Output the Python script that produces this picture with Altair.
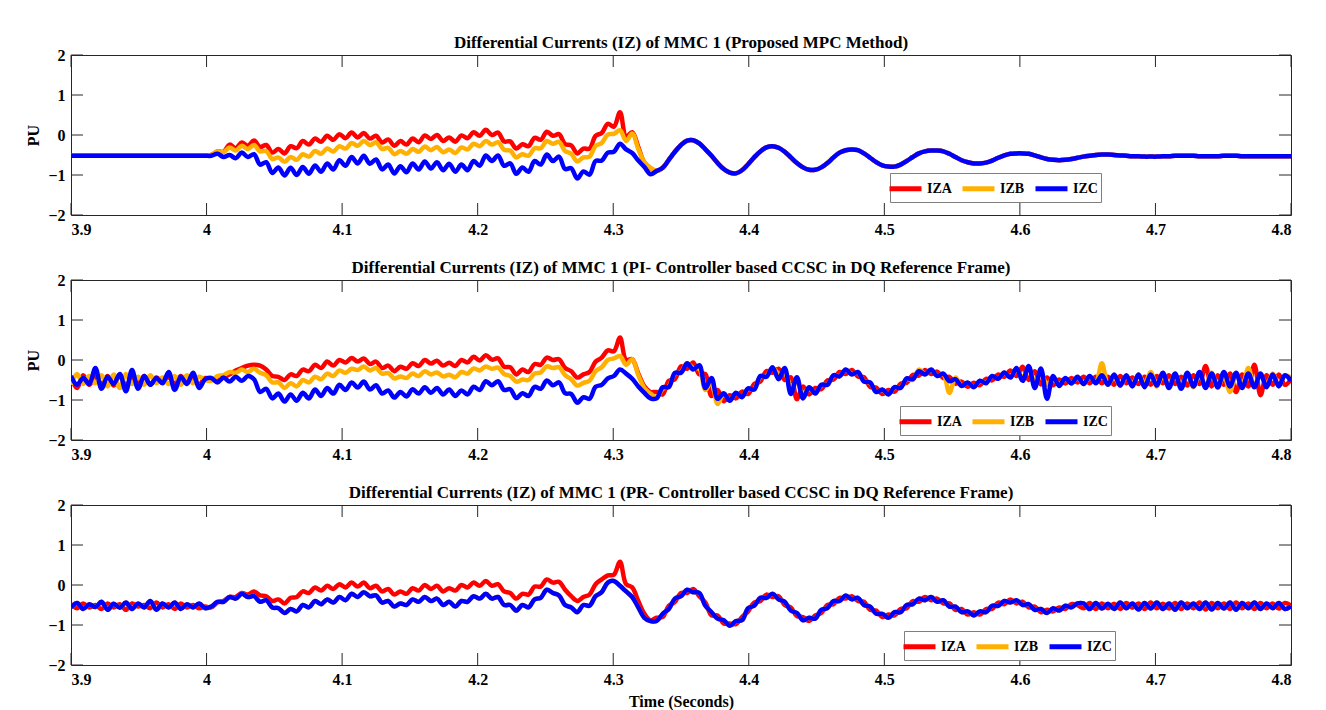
import altair as alt
import pandas as pd

# ---------------- time grid (seconds) ----------------
T = [round(3.9 + 0.0045 * i, 4) for i in range(201)]
XTICKS = [3.9, 4.0, 4.1, 4.2, 4.3, 4.4, 4.5, 4.6, 4.7, 4.8]
YTICKS = [-2, -1, 0, 1, 2]
SERIES = ["IZA", "IZB", "IZC"]
COLORS = ["#FF0000", "#FFB000", "#0000FF"]

# ---------------- Panel 1 : Proposed MPC ----------------
P1_PRE = [-0.52, -0.52, -0.52, -0.52, -0.52, -0.52, -0.52, -0.52, -0.52, -0.52,
          -0.52, -0.52, -0.52, -0.52, -0.52, -0.52, -0.52, -0.52, -0.52, -0.52,
          -0.52, -0.52, -0.52]
P1_A_MID = [-0.50, -0.41, -0.42, -0.24, -0.33, -0.19, -0.27, -0.14, -0.30, -0.25,
            -0.44, -0.35, -0.46, -0.28, -0.33, -0.15, -0.24, -0.09, -0.17, -0.02,
            -0.12, 0.02, -0.08, 0.06, -0.06, 0.05, -0.09, -0.02, -0.19, -0.11,
            -0.27, -0.15, -0.24, -0.09, -0.18, -0.01, -0.10, 0.00, -0.15, -0.06,
            -0.17, -0.01, -0.08, 0.07, -0.02, 0.13, 0.00, 0.06, -0.16, -0.16,
            -0.34, -0.23, -0.28, -0.07, -0.12, 0.08, -0.02, 0.02, -0.23, -0.26,
            -0.46, -0.34, -0.34, -0.02, 0.05, 0.28, 0.21, 0.57, -0.04, 0.07,
            -0.30, -0.70, -0.83]
P1_B_MID = [-0.50, -0.41, -0.43, -0.31, -0.39, -0.27, -0.35, -0.25, -0.41, -0.40,
            -0.60, -0.56, -0.67, -0.55, -0.62, -0.48, -0.54, -0.40, -0.47, -0.34,
            -0.41, -0.28, -0.34, -0.20, -0.27, -0.15, -0.25, -0.18, -0.35, -0.32,
            -0.48, -0.40, -0.47, -0.35, -0.42, -0.29, -0.38, -0.30, -0.43, -0.36,
            -0.45, -0.31, -0.36, -0.22, -0.28, -0.15, -0.24, -0.18, -0.37, -0.39,
            -0.56, -0.48, -0.52, -0.33, -0.33, -0.15, -0.22, -0.17, -0.40, -0.47,
            -0.66, -0.56, -0.54, -0.27, -0.20, 0.01, 0.03, 0.12, -0.15, 0.04,
            -0.35, -0.68, -0.82]
P1_C_MID = [-0.52, -0.47, -0.55, -0.50, -0.58, -0.44, -0.55, -0.48, -0.74, -0.68,
            -0.95, -0.81, -1.01, -0.82, -1.00, -0.80, -0.97, -0.76, -0.92, -0.71,
            -0.86, -0.63, -0.77, -0.55, -0.71, -0.52, -0.72, -0.61, -0.86, -0.74,
            -0.96, -0.78, -0.93, -0.71, -0.86, -0.66, -0.84, -0.68, -0.88, -0.72,
            -0.92, -0.74, -0.88, -0.65, -0.77, -0.51, -0.65, -0.51, -0.77, -0.71,
            -0.97, -0.81, -0.92, -0.65, -0.74, -0.49, -0.65, -0.54, -0.85, -0.83,
            -1.09, -0.91, -0.99, -0.65, -0.64, -0.44, -0.42, -0.22, -0.36, -0.45,
            -0.64, -0.80, -0.98]
P1_POST = [-0.90, -0.82, -0.62, -0.42, -0.25, -0.14, -0.13, -0.21, -0.36, -0.52,
           -0.70, -0.85, -0.94, -0.96, -0.88, -0.73, -0.56, -0.41, -0.31, -0.28,
           -0.32, -0.42, -0.56, -0.70, -0.81, -0.87, -0.87, -0.81, -0.70, -0.56,
           -0.44, -0.38, -0.36, -0.38, -0.46, -0.57, -0.68, -0.76, -0.79, -0.79,
           -0.74, -0.65, -0.55, -0.46, -0.41, -0.39, -0.39, -0.41, -0.47, -0.55,
           -0.63, -0.68, -0.71, -0.71, -0.69, -0.64, -0.57, -0.51, -0.47, -0.46,
           -0.46, -0.47, -0.51, -0.56, -0.60, -0.62, -0.63, -0.62, -0.60, -0.57,
           -0.54, -0.52, -0.50, -0.49, -0.49, -0.50, -0.51, -0.52, -0.53, -0.53,
           -0.54, -0.54, -0.54, -0.53, -0.53, -0.52, -0.52, -0.52, -0.52, -0.53,
           -0.53, -0.53, -0.53, -0.52, -0.52, -0.52, -0.53, -0.53, -0.53, -0.53,
           -0.53, -0.53, -0.53, -0.53, -0.53]

# ---------------- Panel 2 : PI controller ----------------
P2_A = [-0.45, -0.70, -0.38, -0.62, -0.42, -0.60, -0.40, -0.64, -0.36, -0.66,
        -0.43, -0.58, -0.40, -0.61, -0.44, -0.57, -0.42, -0.60, -0.40, -0.58,
        -0.44, -0.62, -0.45,
        -0.48, -0.52, -0.44, -0.36, -0.26, -0.20, -0.14, -0.12, -0.14, -0.24,
        -0.40, -0.42, -0.50, -0.36, -0.40, -0.24, -0.28, -0.12, -0.20, -0.04,
        -0.14, 0.00,
        -0.06, 0.05, -0.04, 0.04, -0.10, -0.04, -0.20, -0.14, -0.28, -0.17,
        -0.22, -0.08, -0.15, 0.00, -0.09, -0.02, -0.14, -0.07, -0.15, 0.00,
        -0.06, 0.08, -0.01, 0.12, 0.01, 0.04, -0.17, -0.18, -0.36, -0.24,
        -0.30, -0.10, -0.12, 0.06, 0.00, 0.02, -0.20, -0.28, -0.44, -0.36,
        -0.30, -0.04, 0.06, 0.24, 0.22, 0.56, 0.00, 0.02, -0.34, -0.66,
        -0.80,
        -0.80, -0.86, -0.52, -0.48, -0.16, -0.22, -0.06, -0.36, -0.35, -0.90,
        -0.75, -1.03, -0.88, -0.96, -0.79, -0.85, -0.60, -0.54, -0.28, -0.32,
        -0.22, -0.50, -0.43, -0.98, -0.66, -0.86, -0.70, -0.73, -0.51, -0.49,
        -0.30, -0.35, -0.25, -0.41, -0.43, -0.67, -0.69, -0.85, -0.75, -0.79,
        -0.59, -0.57, -0.37, -0.39, -0.25, -0.35, -0.29, -0.45, -0.42, -0.59,
        -0.54, -0.67, -0.57, -0.63, -0.47, -0.51, -0.36, -0.42, -0.26, -0.40,
        -0.17, -0.50, -0.28, -0.61, -0.44, -0.63, -0.49, -0.59, -0.45, -0.56,
        -0.42, -0.58, -0.42, -0.58, -0.42, -0.62, -0.40, -0.58, -0.44, -0.60,
        -0.42, -0.62, -0.40, -0.58, -0.38, -0.60, -0.42, -0.64, -0.38, -0.60,
        -0.15, -0.66, -0.38, -0.62, -0.34, -0.80, -0.36, -0.66, -0.12, -0.88,
        -0.38, -0.62, -0.36, -0.62, -0.48]
P2_B = [-0.62, -0.35, -0.60, -0.40, -0.58, -0.38, -0.66, -0.36, -0.70, -0.35,
        -0.60, -0.42, -0.62, -0.38, -0.58, -0.44, -0.60, -0.40, -0.62, -0.38,
        -0.58, -0.42, -0.50,
        -0.52, -0.40, -0.38, -0.30, -0.32, -0.24, -0.30, -0.22, -0.32, -0.38,
        -0.56, -0.56, -0.70, -0.58, -0.66, -0.50, -0.56, -0.42, -0.48, -0.34,
        -0.40, -0.26,
        -0.32, -0.22, -0.25, -0.16, -0.26, -0.20, -0.34, -0.33, -0.46, -0.41,
        -0.45, -0.34, -0.40, -0.28, -0.36, -0.31, -0.41, -0.37, -0.43, -0.30,
        -0.34, -0.21, -0.26, -0.16, -0.22, -0.19, -0.35, -0.40, -0.54, -0.49,
        -0.50, -0.34, -0.31, -0.16, -0.20, -0.18, -0.38, -0.48, -0.64, -0.57,
        -0.52, -0.28, -0.18, 0.00, 0.04, 0.10, -0.12, 0.02, -0.38, -0.70,
        -0.84,
        -0.94, -0.72, -0.66, -0.34, -0.30, -0.08, -0.20, -0.22, -0.75, -0.55,
        -1.10, -0.85, -1.00, -0.84, -0.91, -0.73, -0.72, -0.42, -0.40, -0.20,
        -0.34, -0.32, -0.65, -0.58, -0.84, -0.72, -0.82, -0.63, -0.61, -0.39,
        -0.40, -0.25, -0.35, -0.31, -0.53, -0.57, -0.79, -0.75, -0.85, -0.69,
        -0.69, -0.47, -0.50, -0.24, -0.35, -0.25, -0.39, -0.35, -0.82, -0.44,
        -0.64, -0.57, -0.67, -0.53, -0.57, -0.41, -0.46, -0.32, -0.42, -0.24,
        -0.44, -0.20, -0.55, -0.34, -0.62, -0.47, -0.61, -0.47, -0.57, -0.44,
        -0.60, -0.42, -0.56, -0.08, -0.62, -0.40, -0.64, -0.40, -0.62, -0.36,
        -0.60, -0.30, -0.66, -0.38, -0.62, -0.36, -0.64, -0.34, -0.68, -0.36,
        -0.66, -0.32, -0.70, -0.36, -0.80, -0.34, -0.66, -0.20, -0.64, -0.38,
        -0.64, -0.34, -0.64, -0.40, -0.44]
P2_C = [-0.40, -0.62, -0.45, -0.60, -0.20, -0.72, -0.42, -0.60, -0.35, -0.78,
        -0.25, -0.72, -0.40, -0.62, -0.45, -0.58, -0.30, -0.75, -0.42, -0.60,
        -0.32, -0.70, -0.48,
        -0.45, -0.56, -0.44, -0.54, -0.42, -0.52, -0.40, -0.48, -0.80, -0.72,
        -0.96, -0.84, -1.04, -0.86, -1.02, -0.82, -0.96, -0.74, -0.90, -0.70,
        -0.84, -0.62,
        -0.75, -0.56, -0.69, -0.54, -0.74, -0.63, -0.84, -0.76, -0.94, -0.80,
        -0.91, -0.73, -0.84, -0.68, -0.82, -0.70, -0.86, -0.74, -0.90, -0.76,
        -0.86, -0.67, -0.75, -0.53, -0.63, -0.53, -0.75, -0.73, -0.95, -0.83,
        -0.90, -0.67, -0.72, -0.51, -0.63, -0.56, -0.83, -0.85, -1.07, -0.93,
        -0.97, -0.67, -0.62, -0.46, -0.40, -0.24, -0.34, -0.47, -0.66, -0.82,
        -0.96,
        -0.96, -0.68, -0.68, -0.32, -0.32, -0.08, -0.24, -0.13, -0.70, -0.45,
        -0.97, -0.83, -1.02, -0.82, -0.93, -0.71, -0.74, -0.40, -0.42, -0.18,
        -0.48, -0.20, -0.85, -0.43, -0.96, -0.68, -0.84, -0.62, -0.62, -0.38,
        -0.41, -0.24, -0.36, -0.30, -0.54, -0.56, -0.80, -0.74, -0.86, -0.68,
        -0.70, -0.46, -0.48, -0.28, -0.36, -0.24, -0.40, -0.34, -0.53, -0.48,
        -0.65, -0.56, -0.68, -0.52, -0.58, -0.40, -0.47, -0.31, -0.44, -0.20,
        -0.52, -0.15, -0.70, -0.21, -0.97, -0.40, -0.65, -0.45, -0.59, -0.42,
        -0.60, -0.40, -0.58, -0.38, -0.62, -0.36, -0.64, -0.38, -0.66, -0.36,
        -0.68, -0.36, -0.64, -0.32, -0.70, -0.34, -0.72, -0.32, -0.66, -0.30,
        -0.70, -0.34, -0.68, -0.30, -0.66, -0.32, -0.70, -0.34, -0.68, -0.34,
        -0.68, -0.36, -0.66, -0.38, -0.52]

# ---------------- Panel 3 : PR controller ----------------
P3_A = [-0.48, -0.58, -0.46, -0.56, -0.50, -0.60, -0.46, -0.56, -0.48, -0.62,
        -0.46, -0.54, -0.50, -0.58, -0.44, -0.56, -0.48, -0.60, -0.46, -0.56,
        -0.50, -0.58, -0.54,
        -0.56, -0.44, -0.40, -0.30, -0.30, -0.20, -0.24, -0.16, -0.26, -0.28,
        -0.40, -0.36, -0.46, -0.32, -0.30, -0.16, -0.20, -0.06, -0.14, -0.02,
        -0.10, 0.02, -0.06, 0.06, -0.04, 0.06, -0.08, -0.02, -0.16, -0.10,
        -0.24, -0.16, -0.22, -0.08, -0.14, 0.00, -0.10, -0.02, -0.16, -0.08,
        -0.14, 0.00, -0.06, 0.06, -0.02, 0.10, -0.02, 0.02, -0.16, -0.20,
        -0.34, -0.22, -0.24, -0.04, -0.04, 0.14, 0.06, 0.08, -0.12, -0.28,
        -0.40, -0.30, -0.24, 0.02, 0.14, 0.24, 0.26, 0.58, 0.02, -0.06,
        -0.40, -0.72, -0.88,
        -0.82, -0.80, -0.52, -0.42, -0.20, -0.20, -0.10, -0.28, -0.44, -0.76,
        -0.76, -0.96, -0.96, -0.98, -0.80, -0.66, -0.44, -0.40, -0.24, -0.30,
        -0.28, -0.50, -0.56, -0.78, -0.80, -0.90, -0.76, -0.70, -0.50, -0.48,
        -0.32, -0.34, -0.28, -0.40, -0.42, -0.62, -0.64, -0.80, -0.74, -0.76,
        -0.60, -0.58, -0.40, -0.42, -0.30, -0.38, -0.34, -0.46, -0.46, -0.62,
        -0.60, -0.74, -0.68, -0.74, -0.60, -0.60, -0.44, -0.48, -0.36, -0.46,
        -0.42, -0.56, -0.54, -0.68, -0.62, -0.66, -0.56, -0.60, -0.48, -0.50,
        -0.58, -0.45, -0.60, -0.46, -0.58, -0.47, -0.60, -0.45, -0.57, -0.46,
        -0.60, -0.44, -0.58, -0.47, -0.59, -0.45, -0.60, -0.46, -0.58, -0.44,
        -0.61, -0.45, -0.58, -0.46, -0.60, -0.44, -0.58, -0.46, -0.60, -0.45,
        -0.58, -0.46, -0.59, -0.45, -0.52]
P3_C = [-0.56, -0.45, -0.60, -0.48, -0.55, -0.42, -0.62, -0.47, -0.57, -0.44,
        -0.60, -0.46, -0.56, -0.40, -0.62, -0.46, -0.56, -0.44, -0.60, -0.48,
        -0.56, -0.46, -0.58,
        -0.54, -0.42, -0.42, -0.30, -0.34, -0.22, -0.30, -0.28, -0.42, -0.38,
        -0.56, -0.58, -0.70, -0.60, -0.66, -0.50, -0.56, -0.40, -0.48, -0.36,
        -0.44, -0.30, -0.38, -0.22, -0.30, -0.18, -0.28, -0.26, -0.44, -0.40,
        -0.54, -0.46, -0.50, -0.36, -0.42, -0.30, -0.40, -0.34, -0.50, -0.42,
        -0.54, -0.40, -0.42, -0.28, -0.34, -0.22, -0.34, -0.30, -0.50, -0.50,
        -0.64, -0.50, -0.56, -0.36, -0.32, -0.12, -0.20, -0.26, -0.50, -0.56,
        -0.68, -0.50, -0.52, -0.28, -0.18, 0.06, 0.10, -0.02, -0.16, -0.30,
        -0.56, -0.82, -0.90,
        -0.90, -0.72, -0.60, -0.34, -0.28, -0.12, -0.18, -0.20, -0.52, -0.68,
        -0.84, -0.88, -1.02, -0.90, -0.88, -0.58, -0.52, -0.32, -0.32, -0.22,
        -0.36, -0.42, -0.64, -0.70, -0.88, -0.82, -0.84, -0.62, -0.58, -0.40,
        -0.40, -0.26, -0.36, -0.32, -0.50, -0.54, -0.72, -0.72, -0.82, -0.68,
        -0.68, -0.50, -0.48, -0.34, -0.38, -0.30, -0.42, -0.38, -0.54, -0.54,
        -0.68, -0.66, -0.76, -0.66, -0.68, -0.52, -0.52, -0.40, -0.44, -0.38,
        -0.50, -0.48, -0.62, -0.60, -0.70, -0.58, -0.64, -0.52, -0.56, -0.46,
        -0.46, -0.60, -0.45, -0.59, -0.47, -0.60, -0.44, -0.58, -0.46, -0.61,
        -0.45, -0.59, -0.44, -0.60, -0.46, -0.62, -0.44, -0.58, -0.46, -0.60,
        -0.44, -0.61, -0.45, -0.59, -0.44, -0.62, -0.45, -0.58, -0.44, -0.60,
        -0.46, -0.58, -0.45, -0.60, -0.53]
P3_B = P3_C  # IZB lies underneath IZC in the PR panel

FONT = "Liberation Serif"
W, H = 1220, 160


def panel(a, b, c, title, ytitle, xtitle, lx, ly):
    n = len(T)
    df = pd.DataFrame({"t": T * 3, "v": a + b + c,
                       "s": [SERIES[0]] * n + [SERIES[1]] * n + [SERIES[2]] * n})
    xaxis = alt.Axis(values=XTICKS, format="~g")
    yaxis = alt.Axis(values=YTICKS, format="d")
    X = alt.X("t:Q", scale=alt.Scale(domain=[3.9, 4.8], nice=False, zero=False),
              axis=xaxis, title=xtitle)
    Y = alt.Y("v:Q", scale=alt.Scale(domain=[-2, 2], nice=False), axis=yaxis,
              title=ytitle)
    color = alt.Color("s:N", scale=alt.Scale(domain=SERIES, range=COLORS),
                      legend=alt.Legend(title=None, orient="none", legendX=lx, legendY=ly,
                                        direction="horizontal",
                                        symbolType="M-1.6,0H1.6",
                                        symbolStrokeWidth=5, symbolSize=400,
                                        labelFont=FONT, labelFontSize=14,
                                        labelFontWeight="bold", labelColor="#000",
                                        labelOffset=9, columnPadding=0, padding=3,
                                        fillColor="white", strokeColor="#7f7f7f"))
    layers = []
    for s in SERIES:
        layers.append(alt.Chart(df).transform_filter(alt.datum.s == s)
                      .mark_line(strokeWidth=4.5, clip=True, strokeJoin="round",
                                 interpolate="catmull-rom")
                      .encode(x=X, y=Y, color=color))
    xt = pd.DataFrame({"t": XTICKS})
    yt = pd.DataFrame({"v": YTICKS})
    tick = dict(color="#262626", strokeWidth=1)
    layers.append(alt.Chart(xt).mark_rule(**tick).encode(x=X, y=alt.value(H), y2=alt.value(H - 12)))
    layers.append(alt.Chart(xt).mark_rule(**tick).encode(x=X, y=alt.value(0), y2=alt.value(12)))
    layers.append(alt.Chart(yt).mark_rule(**tick).encode(y=Y, x=alt.value(0), x2=alt.value(12)))
    layers.append(alt.Chart(yt).mark_rule(**tick).encode(y=Y, x=alt.value(W), x2=alt.value(W - 12)))
    return alt.layer(*layers).properties(
        width=W, height=H,
        title=alt.TitleParams(title, font=FONT, fontSize=17, fontWeight="bold",
                              color="#000", anchor="middle", offset=-5))


p1 = panel(P1_PRE + P1_A_MID + P1_POST, P1_PRE + P1_B_MID + P1_POST,
           P1_PRE + P1_C_MID + P1_POST,
           "Differential Currents (IZ) of MMC 1 (Proposed MPC Method)", "PU", None, 819, 118)
p2 = panel(P2_A, P2_B, P2_C,
           "Differential Currents (IZ) of MMC 1 (PI- Controller based CCSC in DQ Reference Frame)",
           "PU", None, 829, 126)
p3 = panel(P3_A, P3_B, P3_C,
           "Differential Currents (IZ) of MMC 1 (PR- Controller based CCSC in DQ Reference Frame)",
           None, "Time (Seconds)", 833, 126)

chart = (alt.vconcat(p1, p2, p3, spacing=20)
         .resolve_scale(color="independent")
         .resolve_legend(color="independent")
         .properties(padding={"left": 25, "top": 33, "right": 30, "bottom": 2},
                     background="white")
         .configure_view(stroke="#262626", strokeWidth=1)
         .configure_axis(grid=False, domain=False, ticks=False, tickSize=0,
                         labelFont=FONT, labelFontSize=16, labelFontWeight="bold",
                         labelColor="#000", labelPadding=6,
                         titleFont=FONT, titleFontSize=16, titleFontWeight="bold",
                         titleColor="#000", titlePadding=6))

chart.save("out.html", embed_options={"renderer": "svg", "actions": False})
